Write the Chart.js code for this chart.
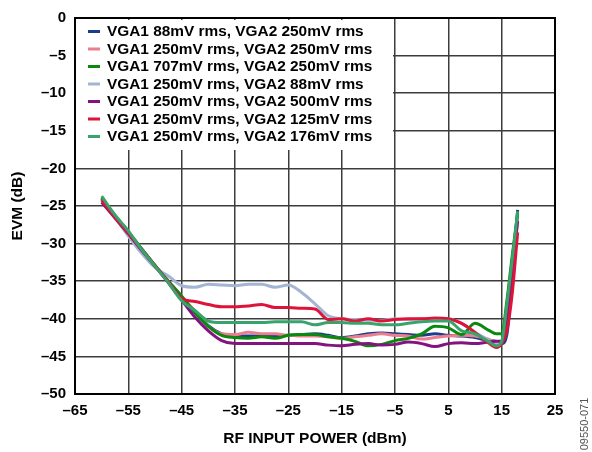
<!DOCTYPE html>
<html>
<head>
<meta charset="utf-8">
<script src="https://cdn.jsdelivr.net/npm/chart.js@4.4.1/dist/chart.umd.min.js"></script>
<style>
  body { margin: 0; background: #fff; }
  #wrap { width: 592px; height: 452px; position: relative; }
</style>
</head>
<body>
<div id="wrap"><canvas id="graf"></canvas></div>
<script>
const ctx = document.getElementById('graf').getContext('2d');

// RF input power (dBm), shared by all curves
const rfPower = [
  -60, -57.5, -55, -52.5, -50, -47.5, -45, -42.5, -40, -37.5,
  -35, -32.5, -30, -27.5, -25, -22.5, -20, -17.5, -15, -12.5,
  -10, -7.5, -5, -2.5, 0, 2.5, 5, 7.5, 10, 12.5,
  14, 15, 16, 17, 18,
];

// EVM (dB) per gain setting
const evm88_250 = [
  -24.0, -26.3, -28.5, -30.7, -32.9, -35.0, -37.1, -39.0, -40.9, -42.0,
  -42.3, -42.3, -42.3, -42.3, -42.2, -42.1, -42.0, -42.2, -42.5, -42.3,
  -42.0, -41.9, -42.0, -42.1, -42.2, -42.0, -42.2, -42.3, -42.5, -42.9,
  -43.0, -43.3, -42.0, -34.0, -25.5,
];
const evm250_250 = [
  -24.1, -26.4, -28.5, -30.7, -32.9, -35.0, -37.0, -39.0, -41.0, -42.0,
  -42.1, -41.8, -42.0, -42.0, -42.2, -42.3, -42.3, -42.4, -42.6, -42.4,
  -42.2, -42.0, -42.2, -42.3, -42.7, -42.5, -42.3, -42.2, -42.3, -42.7,
  -43.1, -43.0, -39.5, -32.5, -27.0,
];
const evm707_250 = [
  -23.9, -26.3, -28.4, -30.7, -32.9, -35.0, -37.0, -39.2, -41.0, -42.2,
  -42.5, -42.6, -42.4, -42.6, -42.2, -42.1, -42.1, -42.4, -42.6, -43.0,
  -43.6, -43.4, -42.9, -42.6, -42.0, -41.0, -41.2, -42.1, -40.6, -41.5,
  -42.0, -42.0, -37.5, -31.5, -26.0,
];
const evm250_88 = [
  -24.0, -26.5, -29.0, -31.3, -33.2, -34.3, -35.6, -35.8, -35.4, -35.5,
  -35.6, -35.4, -35.4, -35.8, -35.5, -36.5, -38.0, -39.6, -40.0, -40.1,
  -40.2, -40.2, -40.0, -40.1, -40.0, -40.0, -40.0, -40.6, -41.8, -42.8,
  -43.4, -43.2, -39.0, -32.0, -26.5,
];
const evm250_500 = [
  -24.5, -26.6, -28.7, -30.9, -33.0, -35.2, -37.5, -39.8, -41.6, -42.9,
  -43.3, -43.3, -43.3, -43.3, -43.3, -43.3, -43.3, -43.5, -43.6, -43.4,
  -43.3, -43.5, -43.4, -43.1, -43.3, -43.7, -43.3, -43.2, -43.3, -43.1,
  -43.0, -43.0, -40.5, -33.5, -27.0,
];
const evm250_125 = [
  -24.2, -26.5, -28.6, -30.8, -33.0, -35.1, -37.3, -37.7, -38.1, -38.4,
  -38.4, -38.3, -38.1, -38.5, -38.5, -38.6, -38.7, -40.1, -40.0, -40.3,
  -40.0, -40.3, -40.1, -40.0, -40.0, -39.9, -40.0, -40.6, -41.8, -43.2,
  -43.8, -43.3, -41.5, -36.5, -28.5,
];
const evm250_176 = [
  -23.7, -26.2, -28.3, -30.8, -33.0, -35.2, -37.6, -38.9, -40.3, -40.5,
  -40.5, -40.5, -40.5, -40.4, -40.4, -40.4, -40.8, -40.5, -40.5, -40.6,
  -40.6, -40.8, -40.8, -40.6, -40.4, -40.3, -40.3, -41.6, -42.0, -43.0,
  -43.6, -43.0, -38.0, -32.0, -25.7,
];

const seriesNames = [
  'VGA1 88mV rms, VGA2 250mV rms',
  'VGA1 250mV rms, VGA2 250mV rms',
  'VGA1 707mV rms, VGA2 250mV rms',
  'VGA1 250mV rms, VGA2 88mV rms',
  'VGA1 250mV rms, VGA2 500mV rms',
  'VGA1 250mV rms, VGA2 125mV rms',
  'VGA1 250mV rms, VGA2 176mV rms',
];
const seriesValues = [evm88_250, evm250_250, evm707_250, evm250_88, evm250_500, evm250_125, evm250_176];
const seriesColors = ['#1b3d8c', '#ec7f8f', '#098a0e', '#a3b5d4', '#83137f', '#df1339', '#39a36c'];
const drawOrder = [6, 5, 3, 4, 2, 1, 0];

const yTicks = [0, -5, -10, -15, -20, -25, -30, -35, -40, -45, -50];
const xTicks = [-65, -55, -45, -35, -25, -15, -5, 5, 15, 25];

const FONT = "'Liberation Sans', Arial, sans-serif";
const dash = (v) => String(v).replace('-', '\u2013');

const datasets = seriesNames.map((name, k) => ({
  label: name,
  data: rfPower.map((x, i) => ({ x: x, y: seriesValues[k][i] })),
  borderColor: seriesColors[k],
  backgroundColor: seriesColors[k],
  borderWidth: 3,
  pointRadius: 0,
  cubicInterpolationMode: 'monotone',
  order: drawOrder[k],
}));

// legend sits inside the plot on a white box, frame drawn all round
const boxLegend = {
  id: 'boxLegend',
  beforeDatasetsDraw(chart) {
    const c = chart.ctx;
    const a = chart.chartArea;
    c.save();
    c.fillStyle = '#fff';
    c.fillRect(a.left + 1, a.top + 2, 317, 130);
    c.font = 'bold 15.4px ' + FONT;
    c.textBaseline = 'middle';
    chart.data.datasets.forEach((ds, i) => {
      const y = a.top + 13.5 + i * 17.5;
      c.fillStyle = ds.borderColor;
      c.fillRect(a.left + 13, y - 1.5, 12, 3);
      c.fillStyle = '#000';
      c.fillText(ds.label, a.left + 32, y + 0.5);
    });
    c.restore();
  },
  afterDatasetsDraw(chart) {
    const c = chart.ctx;
    const a = chart.chartArea;
    c.save();
    c.strokeStyle = '#000';
    c.lineWidth = 2;
    c.strokeRect(a.left, a.top, a.right - a.left, a.bottom - a.top);
    c.restore();
  },
  afterDraw(chart) {
    const c = chart.ctx;
    c.save();
    c.translate(585, 424);
    c.rotate(-Math.PI / 2);
    c.font = '11px ' + FONT;
    c.fillStyle = '#555';
    c.textAlign = 'center';
    c.textBaseline = 'middle';
    c.fillText('09550-071', 0, 0);
    c.restore();
  },
};

const config = {
  type: 'line',
  data: { datasets },
  options: {
    responsive: true,
    maintainAspectRatio: false,
    animation: false,
    layout: { padding: { left: 0, right: 37, top: 14, bottom: 0 } },
    plugins: { legend: { display: false }, tooltip: { enabled: false } },
    scales: {
      x: {
        type: 'linear',
        min: -65,
        max: 25,
        afterBuildTicks: (scale) => { scale.ticks = xTicks.map((v) => ({ value: v })); },
        afterFit: (scale) => { scale.height = 58; },
        grid: { color: '#3c3c3c', lineWidth: 1.5, drawTicks: false },
        border: { color: '#000', width: 2 },
        ticks: {
          padding: 8,
          maxRotation: 0,
          color: '#000',
          font: { family: FONT, size: 15, weight: 'bold' },
          callback: (v) => dash(v),
        },
        title: {
          display: true,
          text: 'RF INPUT POWER (dBm)',
          color: '#000',
          font: { family: FONT, size: 15.5, weight: 'bold' },
          padding: { top: 0, bottom: 4 },
        },
      },
      y: {
        min: -50,
        max: 0,
        afterBuildTicks: (scale) => { scale.ticks = yTicks.map((v) => ({ value: v })); },
        afterFit: (scale) => { scale.width = 75; },
        grid: { color: '#3c3c3c', lineWidth: 1.5, drawTicks: false },
        border: { color: '#000', width: 2 },
        ticks: {
          padding: 9,
          color: '#000',
          font: { family: FONT, size: 15, weight: 'bold' },
          callback: (v) => dash(v),
        },
        title: {
          display: true,
          text: 'EVM (dB)',
          color: '#000',
          font: { family: FONT, size: 15.5, weight: 'bold' },
          padding: { top: 8, bottom: 0 },
        },
      },
    },
  },
  plugins: [boxLegend],
};

const myChart = new Chart(ctx, config);
</script>
</body>
</html>
